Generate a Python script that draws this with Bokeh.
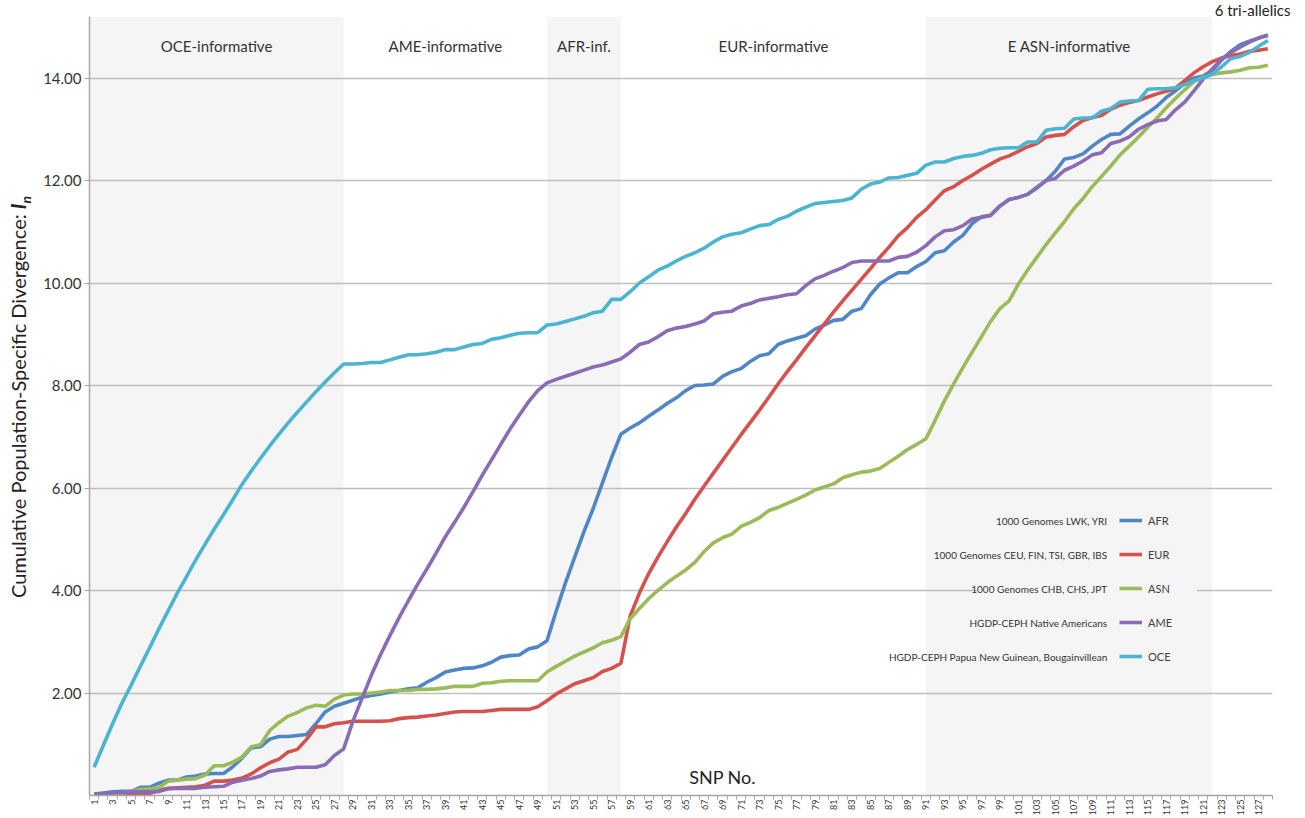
import math
from bokeh.plotting import figure
from bokeh.layouts import row
from bokeh.models import (FixedTicker, PrintfTickFormatter, Label, Legend,
                          LegendItem, BoxAnnotation, Div, Title)
from bokeh.embed import file_html
from bokeh.resources import INLINE

# ---------------- data ----------------
snp = list(range(1, 129))

afr = [0.03, 0.05, 0.07, 0.08, 0.08, 0.16, 0.16, 0.24, 0.30, 0.30,
       0.36, 0.38, 0.42, 0.43, 0.43, 0.56, 0.73, 0.93, 0.95, 1.10,
       1.15, 1.15, 1.17, 1.19, 1.40, 1.63, 1.74, 1.80, 1.86, 1.92,
       1.95, 1.98, 2.02, 2.05, 2.08, 2.10, 2.21, 2.30, 2.41, 2.45,
       2.48, 2.49, 2.53, 2.60, 2.70, 2.73, 2.74, 2.86, 2.90, 3.02,
       3.60, 4.15, 4.65, 5.15, 5.60, 6.10, 6.60, 7.05, 7.17, 7.27,
       7.40, 7.52, 7.65, 7.76, 7.90, 8.00, 8.01, 8.03, 8.18, 8.27,
       8.33, 8.47, 8.58, 8.62, 8.80, 8.87, 8.92, 8.97, 9.10, 9.18,
       9.27, 9.29, 9.45, 9.50, 9.77, 9.98, 10.10, 10.20, 10.20, 10.32,
       10.42, 10.59, 10.63, 10.80, 10.93, 11.16, 11.29, 11.32, 11.50, 11.63,
       11.67, 11.73, 11.85, 12.00, 12.18, 12.42, 12.45, 12.52, 12.67, 12.80,
       12.90, 12.91, 13.06, 13.20, 13.32, 13.45, 13.62, 13.75, 13.90, 14.00,
       14.04, 14.15, 14.35, 14.52, 14.65, 14.72, 14.78, 14.83]

eur = [0.02, 0.02, 0.02, 0.02, 0.02, 0.03, 0.04, 0.10, 0.14, 0.15,
       0.16, 0.17, 0.20, 0.28, 0.28, 0.30, 0.34, 0.42, 0.54, 0.64,
       0.71, 0.85, 0.90, 1.10, 1.34, 1.34, 1.40, 1.42, 1.45, 1.45,
       1.45, 1.45, 1.46, 1.50, 1.52, 1.53, 1.55, 1.57, 1.60, 1.63,
       1.64, 1.64, 1.64, 1.66, 1.68, 1.68, 1.68, 1.68, 1.73, 1.85,
       1.98, 2.08, 2.18, 2.24, 2.30, 2.42, 2.48, 2.58, 3.50, 3.95,
       4.33, 4.65, 4.95, 5.24, 5.50, 5.78, 6.04, 6.29, 6.54, 6.79,
       7.04, 7.28, 7.52, 7.77, 8.03, 8.27, 8.50, 8.74, 8.97, 9.20,
       9.43, 9.65, 9.86, 10.07, 10.28, 10.50, 10.70, 10.92, 11.08, 11.28,
       11.43, 11.62, 11.80, 11.88, 12.00, 12.10, 12.22, 12.32, 12.42, 12.48,
       12.57, 12.66, 12.72, 12.85, 12.88, 12.90, 13.05, 13.17, 13.23, 13.27,
       13.39, 13.47, 13.52, 13.56, 13.63, 13.69, 13.74, 13.80, 13.95, 14.10,
       14.22, 14.32, 14.39, 14.44, 14.47, 14.52, 14.54, 14.57]

asn = [0.03, 0.03, 0.04, 0.05, 0.08, 0.12, 0.13, 0.15, 0.28, 0.30,
       0.32, 0.33, 0.40, 0.58, 0.58, 0.65, 0.75, 0.95, 0.99, 1.27,
       1.42, 1.55, 1.62, 1.71, 1.76, 1.74, 1.88, 1.96, 1.98, 1.98,
       2.00, 2.02, 2.05, 2.05, 2.05, 2.07, 2.07, 2.08, 2.10, 2.13,
       2.13, 2.13, 2.19, 2.20, 2.23, 2.24, 2.24, 2.24, 2.24, 2.41,
       2.52, 2.62, 2.72, 2.80, 2.88, 2.98, 3.03, 3.10, 3.45, 3.65,
       3.84, 4.00, 4.15, 4.28, 4.40, 4.55, 4.76, 4.93, 5.03, 5.10,
       5.25, 5.33, 5.42, 5.56, 5.62, 5.70, 5.78, 5.86, 5.96, 6.02,
       6.08, 6.20, 6.26, 6.31, 6.33, 6.38, 6.50, 6.62, 6.75, 6.85,
       6.96, 7.32, 7.70, 8.03, 8.35, 8.65, 8.95, 9.25, 9.50, 9.65,
       9.98, 10.25, 10.50, 10.75, 10.98, 11.20, 11.45, 11.65, 11.88, 12.08,
       12.28, 12.50, 12.67, 12.85, 13.04, 13.22, 13.42, 13.60, 13.77, 13.93,
       14.02, 14.07, 14.10, 14.12, 14.15, 14.20, 14.21, 14.25]

ame = [0.03, 0.04, 0.05, 0.06, 0.07, 0.07, 0.07, 0.08, 0.13, 0.14,
       0.14, 0.14, 0.16, 0.17, 0.18, 0.26, 0.30, 0.33, 0.38, 0.47,
       0.50, 0.52, 0.55, 0.55, 0.55, 0.60, 0.78, 0.91, 1.45, 1.90,
       2.35, 2.75, 3.12, 3.47, 3.80, 4.12, 4.42, 4.73, 5.05, 5.33,
       5.62, 5.93, 6.25, 6.55, 6.85, 7.15, 7.42, 7.68, 7.90, 8.05,
       8.12, 8.18, 8.24, 8.30, 8.36, 8.40, 8.46, 8.52, 8.65, 8.80,
       8.85, 8.95, 9.07, 9.12, 9.15, 9.20, 9.26, 9.40, 9.43, 9.45,
       9.55, 9.60, 9.67, 9.70, 9.73, 9.77, 9.79, 9.95, 10.08, 10.15,
       10.23, 10.30, 10.40, 10.43, 10.43, 10.43, 10.43, 10.50, 10.52, 10.60,
       10.73, 10.90, 11.02, 11.04, 11.12, 11.25, 11.28, 11.32, 11.50, 11.63,
       11.67, 11.73, 11.87, 12.00, 12.04, 12.20, 12.28, 12.38, 12.50, 12.54,
       12.72, 12.77, 12.85, 13.00, 13.09, 13.16, 13.19, 13.38, 13.53, 13.75,
       13.98, 14.18, 14.37, 14.50, 14.60, 14.70, 14.78, 14.84]

oce = [0.55, 0.98, 1.40, 1.80, 2.15, 2.52, 2.88, 3.25, 3.60, 3.95,
       4.27, 4.60, 4.90, 5.20, 5.48, 5.77, 6.07, 6.33, 6.58, 6.82,
       7.05, 7.27, 7.48, 7.68, 7.88, 8.07, 8.25, 8.42, 8.42, 8.43,
       8.45, 8.45, 8.50, 8.55, 8.60, 8.60, 8.62, 8.65, 8.70, 8.70,
       8.75, 8.80, 8.82, 8.90, 8.93, 8.98, 9.02, 9.03, 9.03, 9.18,
       9.20, 9.25, 9.30, 9.35, 9.42, 9.45, 9.68, 9.68, 9.83, 10.00,
       10.12, 10.25, 10.33, 10.43, 10.52, 10.59, 10.68, 10.80, 10.90, 10.95,
       10.98, 11.05, 11.12, 11.14, 11.24, 11.30, 11.40, 11.48, 11.55, 11.57,
       11.59, 11.61, 11.66, 11.83, 11.93, 11.97, 12.05, 12.06, 12.10, 12.14,
       12.30, 12.36, 12.36, 12.43, 12.47, 12.49, 12.53, 12.60, 12.63, 12.64,
       12.64, 12.75, 12.75, 12.98, 13.01, 13.02, 13.20, 13.22, 13.22, 13.35,
       13.40, 13.53, 13.55, 13.56, 13.78, 13.79, 13.79, 13.81, 13.87, 13.95,
       14.00, 14.08, 14.22, 14.38, 14.42, 14.50, 14.62, 14.73]

series_codes = ["AFR", "EUR", "ASN", "AME", "OCE"]
series_desc = ["1000 Genomes LWK, YRI",
               "1000 Genomes CEU, FIN, TSI, GBR, IBS",
               "1000 Genomes CHB, CHS, JPT",
               "HGDP-CEPH Native Americans",
               "HGDP-CEPH Papua New Guinean, Bougainvillean"]
series_values = [afr, eur, asn, ame, oce]
series_colors = ["#4F86C6", "#D5514C", "#9BBB59", "#8A6BB5", "#4BB4D0"]

band_titles = ["OCE-informative", "AME-informative", "AFR-inf.",
               "EUR-informative", "E ASN-informative"]
band_start = [0.5, 28, 50, 58, 91]
band_end = [28, 50, 58, 91, 122]
band_shaded = [True, False, True, False, True]

y_ticks = [2, 4, 6, 8, 10, 12, 14]
x_label_ticks = list(range(1, 128, 2))
x_boundaries = [k + 0.5 for k in range(0, 129)]

y_title = "Cumulative Population-Specific Divergence: "
y_symbol = "I"
y_subscript = "n"
x_title = "SNP No."
note_text = "6 tri-allelics"

# ---------------- figure ----------------
FONT = "Lato"
TXT = "#333333"
BAND = "#F5F5F5"
Y_TOP = 15.2
LEFT_W = 40

p = figure(width=1305 - LEFT_W, height=818, x_range=(0.5, 128.5),
           y_range=(0, Y_TOP), output_backend="svg", toolbar_location=None,
           min_border_left=88 - LEFT_W, min_border_right=33,
           min_border_top=16, min_border_bottom=20)
p.outline_line_color = None
p.background_fill_color = "white"
p.border_fill_color = "white"

# note above the plot area, at the right
p.add_layout(Title(text=note_text, align="right", offset=-18, standoff=-4,
                   text_font=FONT, text_font_size="15px",
                   text_font_style="normal", text_color="#222222",
                   text_line_height=1.0), "above")

# shaded bands (below the grid)
sb = [s for s, f in zip(band_start, band_shaded) if f]
se = [e for e, f in zip(band_end, band_shaded) if f]
p.quad(left=sb, right=se, bottom=0, top=Y_TOP, fill_color=BAND,
       line_color=None, level="image")

# grid
p.xgrid.visible = False
p.ygrid.ticker = FixedTicker(ticks=y_ticks)
p.ygrid.grid_line_color = "#BEBEBE"
p.ygrid.grid_line_width = 1.5

# y axis
p.yaxis.ticker = FixedTicker(ticks=y_ticks)
p.yaxis.formatter = PrintfTickFormatter(format="%.2f")
p.yaxis.axis_line_color = "#A6A6A6"
p.yaxis.axis_line_width = 1.5
p.yaxis.major_tick_line_color = "#A6A6A6"
p.yaxis.major_tick_out = 5
p.yaxis.major_tick_in = 0
p.yaxis.minor_tick_line_color = None
p.yaxis.major_label_text_font = FONT
p.yaxis.major_label_text_font_size = "15px"
p.yaxis.major_label_text_color = TXT
p.yaxis.major_label_standoff = 3

# x axis
p.xaxis.ticker = FixedTicker(ticks=x_label_ticks, minor_ticks=x_boundaries)
p.xaxis.axis_line_color = "#A6A6A6"
p.xaxis.axis_line_width = 1.5
p.xaxis.major_tick_line_color = None
p.xaxis.major_tick_out = 0
p.xaxis.major_tick_in = 0
p.xaxis.minor_tick_line_color = "#A6A6A6"
p.xaxis.minor_tick_out = 4
p.xaxis.minor_tick_in = 0
p.xaxis.major_label_orientation = math.pi / 2
p.xaxis.major_label_text_font = FONT
p.xaxis.major_label_text_font_size = "9px"
p.xaxis.major_label_text_color = TXT
p.xaxis.major_label_standoff = 0

# lines
renderers = []
for vals, col in zip(series_values, series_colors):
    r = p.line(snp, vals, line_color=col, line_width=3.6)
    renderers.append(r)

# band titles
for t, s, e in zip(band_titles, band_start, band_end):
    p.add_layout(Label(x=(s + e) / 2, y=750, y_units="screen", text=t,
                       text_align="center", text_baseline="middle",
                       text_font=FONT, text_font_size="15px", text_color=TXT))

# legend background (hides the gridline behind the legend)
p.add_layout(BoxAnnotation(left=96.5, right=120.3, bottom=2.35, top=5.7,
                           fill_color=BAND, fill_alpha=1.0, line_color=None))

legend = Legend(items=[LegendItem(label=c, renderers=[r])
                       for c, r in zip(series_codes, renderers)],
                location=(1030, 129), orientation="vertical",
                glyph_width=23, glyph_height=20, label_height=20,
                spacing=14, padding=0, margin=0, label_standoff=6,
                background_fill_alpha=0, border_line_color=None,
                label_text_font=FONT, label_text_font_size="11px",
                label_text_color="#404040")
p.add_layout(legend)

for i, d in enumerate(series_desc):
    p.add_layout(Label(x=1018, y=275 - 34 * i, x_units="screen", y_units="screen",
                       text=d, text_align="right", text_baseline="middle",
                       text_font=FONT, text_font_size="10px", text_color=TXT))

# x axis title (inside the plot area, as in the original)
p.add_layout(Label(x=69.0, y=19, y_units="screen", text=x_title,
                   text_align="center", text_baseline="middle",
                   text_font=FONT, text_font_size="18px", text_color="#222222"))

# y axis title as rotated HTML text (needs bold-italic symbol with subscript)
ylabel = Div(
    text=('<div style="position:relative; left:6px; top:598px; width:0; '
          'white-space:nowrap; transform-origin:0 0; transform:rotate(-90deg); '
          'font-family:Lato; font-size:20px; line-height:24px; color:#222222;">'
          f'{y_title}<b><i>{y_symbol}<sub style="font-size:14px;">{y_subscript}'
          '</sub></i></b></div>'),
    width=LEFT_W, height=818, margin=(0, 0, 0, 0))

layout = row(ylabel, p, spacing=0)
open("out.html", "w").write(file_html(layout, INLINE))
